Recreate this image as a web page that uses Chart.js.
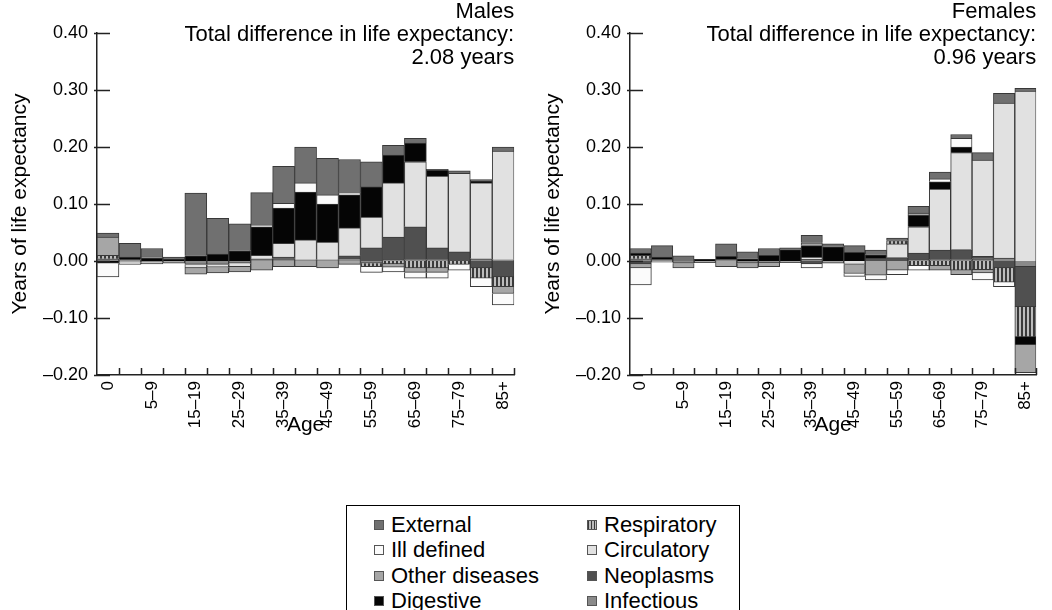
<!DOCTYPE html>
<html>
<head>
<meta charset="utf-8">
<script src="https://cdn.jsdelivr.net/npm/chart.js@4.4.1/dist/chart.umd.min.js"></script>
<style>
  body { margin:0; background:#fff; width:1052px; height:610px; overflow:hidden; position:relative; font-family:"Liberation Sans", Arial, sans-serif; }
  #wrap_males { position:absolute; left:0; top:0; width:530px; height:440px; }
  #wrap_females { position:absolute; left:533px; top:0; width:519px; height:440px; }
  #legend_box { position:absolute; left:346px; top:505px; width:394px; height:120px; border:1px solid #000; box-sizing:border-box; }
  .lg_item { position:absolute; font-size:22px; color:#000; line-height:24px; white-space:nowrap; }
  .lg_sw { display:inline-block; width:10px; height:10px; border:1px solid #555; box-sizing:border-box; margin-right:7px; vertical-align:2px; }
</style>
</head>
<body>
<div id="wrap_males"><canvas id="chart_males"></canvas></div>
<div id="wrap_females"><canvas id="chart_females"></canvas></div>
<div id="legend_box"></div>
<script>
var ageLabels = ["0","1–4","5–9","10–14","15–19","20–24","25–29","30–34","35–39","40–44","45–49","50–54","55–59","60–64","65–69","70–74","75–79","80–84","85+"];
var yTicks = [-0.2, -0.1, 0, 0.1, 0.2, 0.3, 0.4];

// males, years of life expectancy by cause
var maleInfectious  = [0.004, 0.002,-0.002, 0,    -0.006,-0.006,-0.004, 0.004, 0.004, 0.002, 0.002, 0.005,-0.004, 0.003, 0.002, 0.002, 0,     0.004, 0.002];
var maleNeoplasms   = [0,     0,     0,     0,     0,     0,     0,     0,     0.003, 0,     0,     0.004, 0.023, 0.039, 0.058, 0.021, 0.016,-0.012,-0.028];
var maleCirculatory = [0,     0,     0,     0,    -0.006,-0.005,-0.006, 0.006, 0.024, 0.035, 0.031, 0.049, 0.054, 0.095, 0.114, 0.126, 0.138, 0.133, 0.191];
var maleRespiratory = [0.006, 0,     0,     0,     0,     0,     0,     0,     0,     0,     0,     0,    -0.006,-0.005,-0.012,-0.012,-0.006,-0.018,-0.017];
var maleDigestive   = [-0.004,0.005, 0.005, 0.003, 0.009, 0.012, 0.018, 0.05,  0.062, 0.084, 0.067, 0.058, 0.053, 0.049, 0.033, 0.01,  0,     0.003, 0];
var maleOther       = [0.032,-0.002, 0.002,-0.004,-0.011,-0.01, -0.009,-0.016,-0.01, -0.01, -0.012,-0.006, 0,    -0.006,-0.008,-0.008, 0,     0,    -0.012];
var maleIllDefined  = [-0.024,-0.004,-0.003,0,     0,     0,     0,     0.003, 0.008, 0.016, 0.016, 0.004,-0.01, -0.008,-0.01, -0.01, -0.01, -0.015,-0.02];
var maleExternal    = [0.007, 0.024, 0.015, 0.004, 0.11,  0.063, 0.047, 0.057, 0.065, 0.063, 0.064, 0.058, 0.044, 0.017, 0.008, 0.002, 0.004, 0.003, 0.007];

// females
var femaleInfectious  = [0.004, 0.003,-0.004, 0,     0.003,-0.004,-0.003, 0,     0.003, 0,     0,     0,     0,     0.003, 0.002, 0.002, 0.004, 0.005,-0.01];
var femaleNeoplasms   = [-0.005,0,     0,     0,     0,     0,     0,     0,    -0.005, 0,     0,     0.005, 0.006, 0.011, 0.017, 0.018, 0.004,-0.012,-0.07];
var femaleCirculatory = [0,     0,     0,     0,     0,     0,     0,     0,     0.004, 0,    -0.006, 0,     0.024, 0.046, 0.107, 0.17,  0.169, 0.272, 0.298];
var femaleRespiratory = [0.006, 0,     0,     0,     0,     0,     0,     0,     0,     0,     0,     0,     0.006,-0.008,-0.008,-0.016,-0.015,-0.025,-0.053];
var femaleDigestive   = [0.004, 0.004, 0,     0.003, 0.005, 0.004, 0.01,  0.02,  0.02,  0.025, 0.015, 0.006, 0,     0.02,  0.013, 0.01,  0,     0,    -0.014];
var femaleOther       = [-0.007,-0.002,-0.008,-0.003,-0.01, -0.008,-0.007,-0.003, 0.005,-0.004,-0.016,-0.025,-0.016, 0.004,-0.008,-0.008,-0.006, 0,    -0.049];
var femaleIllDefined  = [-0.03, 0,     0,     0,     0,     0,     0,     0,    -0.007, 0,    -0.005,-0.008,-0.008,-0.008, 0.005, 0.015,-0.012,-0.008, 0];
var femaleExternal    = [0.008, 0.02,  0.009, 0,     0.022, 0.012, 0.012, 0.003, 0.013, 0.005, 0.012, 0.008, 0.004, 0.012, 0.012, 0.007, 0.013, 0.017, 0.005];

// stacking order (nearest zero first)
var causeNames = ["Infectious","Neoplasms","Circulatory","Respiratory","Digestive","Other diseases","Ill defined","External"];
var causeColors = ["#8a8a8a","#505050","#e1e1e1","stripes","#050505","#a6a6a6","#fbfbfb","#707070"];
// legend reads column by column
var legendOrder = ["External","Ill defined","Other diseases","Digestive","Respiratory","Circulatory","Neoplasms","Infectious"];

var FONT = '"Liberation Sans", Arial, sans-serif';

function stripePattern(){
    var c = document.createElement('canvas');
    c.width = 4; c.height = 4;
    var cx = c.getContext('2d');
    cx.fillStyle = '#bcbcbc';
    cx.fillRect(0,0,4,4);
    cx.fillStyle = '#3a3a3a';
    cx.fillRect(0,0,2,4);
    return cx.createPattern(c, 'repeat');
}

function colorFor(i){
    if(causeColors[i] == 'stripes'){
        return stripePattern();
    }
    return causeColors[i];
}

var axisDecor = {
    id: 'axisDecor',
    afterDraw: function(chart, args, opts){
        var ctx = chart.ctx;
        var area = chart.chartArea;
        var ys = chart.scales.y;
        ctx.save();
        ctx.strokeStyle = '#222';
        ctx.lineWidth = 1.5;
        ctx.beginPath();
        yTicks.forEach(function(v){
            var py = Math.round(ys.getPixelForValue(v)) + 0.5;
            ctx.moveTo(area.left - 3, py);
            ctx.lineTo(area.left + 13, py);
        });
        var step = (area.right - area.left) / ageLabels.length;
        for(var i = 1; i <= ageLabels.length; i++){
            var px = Math.round(area.left + step * i) + 0.5;
            ctx.moveTo(px, area.bottom);
            ctx.lineTo(px, area.bottom - 7);
        }
        ctx.stroke();
        // heading in the top right corner
        ctx.fillStyle = '#000';
        ctx.font = '22px ' + FONT;
        ctx.textAlign = 'right';
        ctx.textBaseline = 'middle';
        ctx.fillText(opts.sex, area.right, 12);
        ctx.fillText('Total difference in life expectancy:', area.right, 35);
        ctx.fillText(opts.total, area.right, 58);
        ctx.restore();
    }
};

function buildDatasets(series){
    var ds = [];
    for(var i = 0; i < causeNames.length; i++){
        ds.push({
            label: causeNames[i],
            data: series[i],
            backgroundColor: colorFor(i),
            borderColor: '#383838',
            borderWidth: 1,
            stack: 'all'
        });
    }
    return ds;
}

function makeChart(canvasId, series, sex, total, padRight){
    var config = {
        type: 'bar',
        data: {
            labels: ageLabels,
            datasets: buildDatasets(series)
        },
        options: {
            responsive: true,
            maintainAspectRatio: false,
            animation: false,
            events: [],
            layout: { padding: { top: 33, right: padRight, bottom: 0, left: 0 } },
            datasets: { bar: { barPercentage: 1, categoryPercentage: 1 } },
            plugins: {
                legend: { display: false },
                tooltip: { enabled: false },
                axisDecor: { sex: sex, total: total }
            },
            scales: {
                x: {
                    stacked: true,
                    grid: { display: false, drawTicks: false },
                    border: { display: true, color: '#222', width: 1.5 },
                    ticks: {
                        autoSkip: false,
                        minRotation: 90,
                        maxRotation: 90,
                        padding: 6,
                        color: '#000',
                        font: { family: FONT, size: 17 },
                        callback: function(v, i){ return i % 2 == 0 ? ageLabels[i] : ''; }
                    },
                    title: { display: true, text: 'Age', color: '#000', font: { family: FONT, size: 21 }, padding: { top: 0, bottom: 2 } },
                    afterFit: function(scale){ scale.height = 65; }
                },
                y: {
                    stacked: true,
                    min: -0.2,
                    max: 0.4,
                    grid: { display: false, drawTicks: false },
                    border: { display: true, color: '#222', width: 1.5 },
                    afterBuildTicks: function(scale){
                        scale.ticks = yTicks.map(function(v){ return { value: v }; });
                    },
                    ticks: {
                        padding: 9,
                        color: '#000',
                        font: { family: FONT, size: 18 },
                        callback: function(v){ return Number(v).toFixed(2).replace('-', '\u2013'); }
                    },
                    title: { display: true, text: 'Years of life expectancy', color: '#000', font: { family: FONT, size: 21 }, padding: { top: 8, bottom: 0 } },
                    afterFit: function(scale){ scale.width = 97; }
                }
            }
        },
        plugins: [axisDecor]
    };
    return new Chart(document.getElementById(canvasId).getContext('2d'), config);
}

function buildLegend(){
    var box = document.getElementById('legend_box');
    var html = '';
    for(var k = 0; k < legendOrder.length; k++){
        var idx = causeNames.indexOf(legendOrder[k]);
        var col = Math.floor(k / 4);
        var row = k % 4;
        var left = col == 0 ? 27 : 240;
        var top = 7 + row * 25.3;
        var bg = causeColors[idx] == 'stripes'
            ? 'background:repeating-linear-gradient(90deg,#3a3a3a 0 1px,#bcbcbc 1px 3px)'
            : 'background:' + causeColors[idx];
        html += '<div class="lg_item" style="left:' + left + 'px;top:' + top + 'px">';
        html += '<span class="lg_sw" style="' + bg + '"></span>' + legendOrder[k] + '</div>';
    }
    box.innerHTML = html;
}

makeChart('chart_males',
    [maleInfectious, maleNeoplasms, maleCirculatory, maleRespiratory, maleDigestive, maleOther, maleIllDefined, maleExternal],
    'Males', '2.08 years', 15);
makeChart('chart_females',
    [femaleInfectious, femaleNeoplasms, femaleCirculatory, femaleRespiratory, femaleDigestive, femaleOther, femaleIllDefined, femaleExternal],
    'Females', '0.96 years', 4);
buildLegend();
</script>
</body>
</html>
